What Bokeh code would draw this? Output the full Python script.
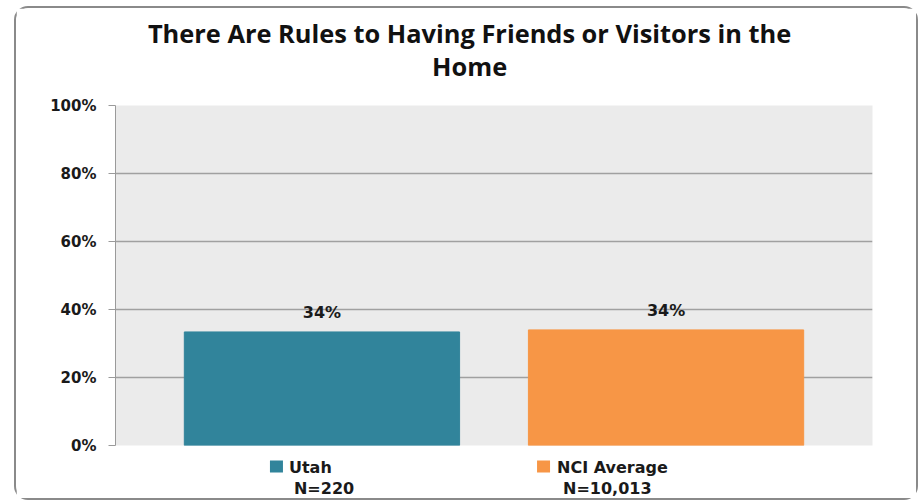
from bokeh.plotting import figure
from bokeh.layouts import column
from bokeh.models import ColumnDataSource, LabelSet, PrintfTickFormatter, FixedTicker, Range1d
from bokeh.core.properties import value
from bokeh.embed import file_html
from bokeh.resources import INLINE

# ---- data ----
groups = ["Utah", "NCI Average"]
group_n = ["N=220", "N=10,013"]
percent = [33.4, 34.0]
percent_labels = ["34%", "34%"]
bar_colors = ["#31849B", "#F79646"]
y_ticks = [0, 20, 40, 60, 80, 100]
title_lines = ["There Are Rules to Having Friends or Visitors in the", "Home"]

xs = list(range(len(groups)))
W = 900
ML, MR = 99, 44
XR = Range1d(-0.6, 1.6)
px_per_unit = (W - ML - MR) / (XR.end - XR.start)

# ---------- title strip ----------
TH = 86
pt = figure(width=W, height=TH, output_backend="svg", toolbar_location=None, tools="",
            title=None, x_axis_location=None, y_axis_location=None,
            x_range=Range1d(0, W), y_range=Range1d(0, TH),
            min_border_left=0, min_border_right=0, min_border_top=0, min_border_bottom=0)
for g in pt.grid:
    g.grid_line_color = None
pt.outline_line_color = None
pt.text(x=[421, 421], y=[62, 29], text=title_lines, text_align="center",
        text_baseline="alphabetic", text_font=value("Open Sans"),
        text_font_style="bold", text_font_size="25.4px", text_color="#111111")

# ---------- main chart ----------
src = ColumnDataSource(dict(x=xs, y=percent, lab=percent_labels, color=bar_colors))
MH = 360
p = figure(width=W, height=MH, output_backend="svg", toolbar_location=None, tools="",
           title=None, x_axis_location=None, x_range=XR, y_range=Range1d(0, 100),
           min_border_left=ML, min_border_right=MR, min_border_top=11, min_border_bottom=9)
p.background_fill_color = "#EBEBEB"
p.border_fill_color = "white"
p.outline_line_color = None

p.vbar(x="x", top="y", bottom=0, width=0.8, color="color", source=src)

p.add_layout(LabelSet(x="x", y="y", text="lab", source=src, text_align="center",
                      text_baseline="alphabetic", y_offset=14,
                      text_font=value("DejaVu Sans"), text_font_style="bold",
                      text_font_size="16px", text_color="#1a1a1a"))

yax = p.yaxis[0]
yax.ticker = FixedTicker(ticks=y_ticks)
yax.formatter = PrintfTickFormatter(format="%d%%")
yax.major_tick_out = 7
yax.major_tick_in = 0
yax.minor_tick_line_color = None
yax.axis_line_color = "#9a9a9a"
yax.major_tick_line_color = "#9a9a9a"
yax.major_label_text_font = "DejaVu Sans"
yax.major_label_text_font_style = "bold"
yax.major_label_text_font_size = "15px"
yax.major_label_text_color = "#1a1a1a"
yax.major_label_standoff = 12

for g in p.grid:
    if g.dimension == 0:
        g.grid_line_color = None
    else:
        g.grid_line_color = "#A0A0A0"
        g.grid_line_width = 1.5
        g.ticker = FixedTicker(ticks=y_ticks)

# ---------- legend strip ----------
LH = 44
pl = figure(width=W, height=LH, output_backend="svg", toolbar_location=None, tools="",
            title=None, x_axis_location=None, y_axis_location=None,
            x_range=XR, y_range=Range1d(0, LH),
            min_border_left=ML, min_border_right=MR, min_border_top=0, min_border_bottom=0)
for g in pl.grid:
    g.grid_line_color = None
pl.outline_line_color = None

sq_off = [-45.5, -122.5]
name_off = [-33, -109]
n_off = [-28, -103]
pl.rect(x=[xs[i] + sq_off[i] / px_per_unit for i in xs], y=[32, 32], width=13, height=12,
        width_units="screen", height_units="screen", color=bar_colors, line_color=None)
for i in xs:
    pl.text(x=[xs[i]], y=[31], text=[groups[i]], x_offset=name_off[i],
            text_align="left", text_baseline="alphabetic",
            text_font=value("DejaVu Sans"), text_font_style="bold",
            text_font_size="16px", text_color="#1a1a1a")
    pl.text(x=[xs[i]], y=[10], text=[group_n[i]], x_offset=n_off[i],
            text_align="left", text_baseline="alphabetic",
            text_font=value("DejaVu Sans"), text_font_style="bold",
            text_font_size="16px", text_color="#1a1a1a")

layout = column(pt, p, pl, spacing=0)
layout.styles = {"border": "2px solid #8a8a8a", "border-radius": "14px",
                 "margin-left": "14px", "margin-top": "6px"}

open("out.html", "w").write(file_html(layout, INLINE))
